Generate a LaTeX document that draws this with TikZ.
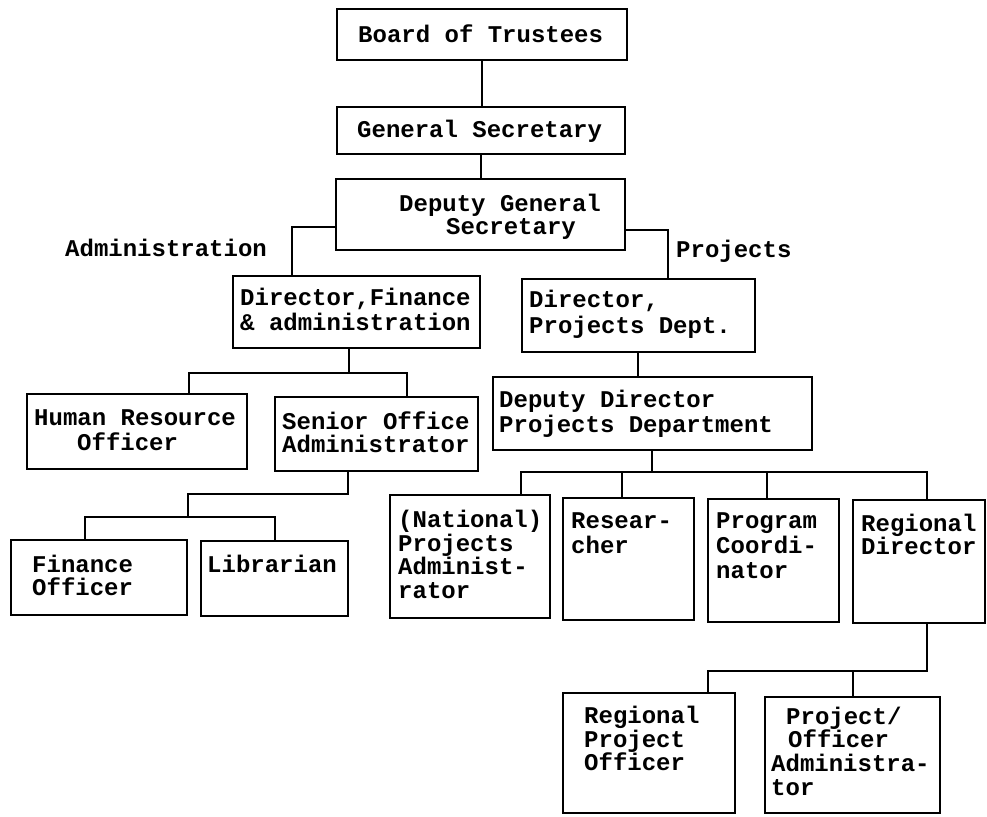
\documentclass[tikz,border=0pt]{standalone}
\usepackage{fontspec}
\newfontfamily\orgfont{Liberation Mono}
\tikzset{
  box/.style={draw, rectangle, line width=1.6pt, inner sep=0pt},
  lbl/.style={anchor=base west, inner sep=0pt, font=\orgfont\bfseries\fontsize{24}{24}\selectfont},
  conn/.style={line width=1.6pt, line join=miter}
}
\newcommand\orgbox[5]{\node[box,minimum width=#4pt-#2pt,minimum height=#5pt-#3pt] (#1) at ({(#2+#4)/2},{(#3+#5)/2}) {};}
\begin{document}
\begin{tikzpicture}[x=1pt,y=-1pt]
\useasboundingbox (0,0) rectangle (987,816);
% boxes
\orgbox{bot}{337}{9}{627}{60}
\orgbox{gs}{337}{107}{625}{154}
\orgbox{dgs}{336}{179}{625}{250}
\orgbox{dfa}{233}{276}{480}{348}
\orgbox{dpd}{522}{279}{755}{352}
\orgbox{hr}{27}{394}{247}{469}
\orgbox{soa}{275}{397}{478}{471}
\orgbox{ddp}{493}{377}{812}{450}
\orgbox{fo}{11}{540}{187}{615}
\orgbox{lib}{201}{541}{348}{616}
\orgbox{npa}{390}{495}{550}{618}
\orgbox{res}{563}{498}{694}{620}
\orgbox{pc}{708}{499}{839}{622}
\orgbox{rd}{853}{500}{985}{623}
\orgbox{rpo}{563}{693}{735}{813}
\orgbox{poa}{765}{697}{940}{813}
% connectors
\draw[conn] (bot.south -| 482,0) -- (gs.north -| 482,0);
\draw[conn] (gs.south -| 481,0) -- (dgs.north -| 481,0);
\draw[conn] (dgs.west |- 0,227) -- (292,227) -- (dfa.north -| 292,0);
\draw[conn] (dgs.east |- 0,230) -- (668,230) -- (dpd.north -| 668,0);
\draw[conn] (dfa.south -| 349,0) -- (349,373);
\draw[conn] (hr.north -| 189,0) -- (189,373) -- (407,373) -- (soa.north -| 407,0);
\draw[conn] (soa.south -| 348,0) -- (348,494) -- (188,494) -- (188,517);
\draw[conn] (fo.north -| 85,0) -- (85,517) -- (275,517) -- (lib.north -| 275,0);
\draw[conn] (dpd.south -| 638,0) -- (ddp.north -| 638,0);
\draw[conn] (ddp.south -| 652,0) -- (652,472);
\draw[conn] (npa.north -| 521,0) -- (521,472) -- (927,472) -- (rd.north -| 927,0);
\draw[conn] (622,472) -- (res.north -| 622,0);
\draw[conn] (767,472) -- (pc.north -| 767,0);
\draw[conn] (rd.south -| 927,0) -- (927,671) -- (708,671) -- (rpo.north -| 708,0);
\draw[conn] (853,671) -- (poa.north -| 853,0);
% texts
\node[lbl] (t1) at (358,42) {Board of Trustees};
\node[lbl] (t2) at (357,137) {General Secretary};
\node[lbl] (t3a) at (399,211) {Deputy General};
\node[lbl] (t3b) at (446,234) {Secretary};
\node[lbl] (tadm) at (65,256) {Administration};
\node[lbl] (tproj) at (676,257) {Projects};
\node[lbl] (t4a) at (240,305) {Director,Finance};
\node[lbl] (t4b) at (240,330) {\& administration};
\node[lbl] (t5a) at (529,307) {Director,};
\node[lbl] (t5b) at (529,333) {Projects Dept.};
\node[lbl] (t6a) at (34,425) {Human Resource};
\node[lbl] (t6b) at (77,450) {Officer};
\node[lbl] (t7a) at (282,429) {Senior Office};
\node[lbl] (t7b) at (282,452) {Administrator};
\node[lbl] (t8a) at (499,407) {Deputy Director};
\node[lbl] (t8b) at (499,432) {Projects Department};
\node[lbl] (t9a) at (32,572) {Finance};
\node[lbl] (t9b) at (32,595) {Officer};
\node[lbl] (t10) at (207,572) {Librarian};
\node[lbl] (t11a) at (398,527) {(National)};
\node[lbl] (t11b) at (398,551) {Projects};
\node[lbl] (t11c) at (398,574) {Administ-};
\node[lbl] (t11d) at (398,598) {rator};
\node[lbl] (t12a) at (571,528) {Resear-};
\node[lbl] (t12b) at (571,553) {cher};
\node[lbl] (t13a) at (716,528) {Program};
\node[lbl] (t13b) at (716,553) {Coordi-};
\node[lbl] (t13c) at (716,578) {nator};
\node[lbl] (t14a) at (861,531) {Regional};
\node[lbl] (t14b) at (861,554) {Director};
\node[lbl] (t15a) at (584,723) {Regional};
\node[lbl] (t15b) at (584,747) {Project};
\node[lbl] (t15c) at (584,770) {Officer};
\node[lbl] (t16a) at (786,724) {Project/};
\node[lbl] (t16b) at (788,747) {Officer};
\node[lbl] (t16c) at (771,771) {Administra-};
\node[lbl] (t16d) at (771,795) {tor};
\end{tikzpicture}
\end{document}
